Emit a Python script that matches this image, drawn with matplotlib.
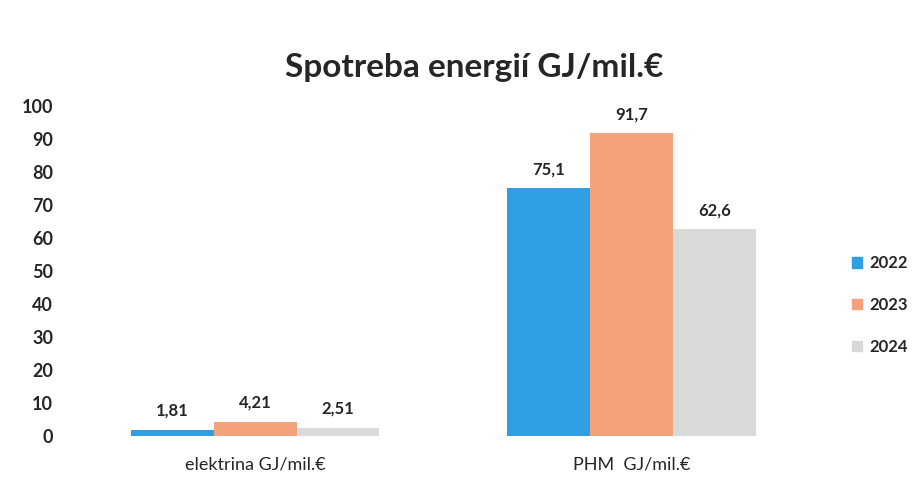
import numpy as np
import matplotlib.pyplot as plt
from matplotlib.patches import Patch

plt.rcParams['font.family'] = ['Lato', 'DejaVu Sans']

categories = ['elektrina GJ/mil.€', 'PHM  GJ/mil.€']
years = ['2022', '2023', '2024']
v2022 = [1.81, 75.1]
v2023 = [4.21, 91.7]
v2024 = [2.51, 62.6]
labels2022 = ['1,81', '75,1']
labels2023 = ['4,21', '91,7']
labels2024 = ['2,51', '62,6']

colors = ['#2f9ee3', '#f4a27c', '#d9d9d9']
txt = '#262626'

fig = plt.figure(figsize=(9.18, 4.92), dpi=100)
ax = fig.add_axes([0.073, 0.1138, 0.82, 0.6708])

x = np.arange(len(categories))
w = 0.22
series = [(v2022, labels2022), (v2023, labels2023), (v2024, labels2024)]
for i, (vals, labs) in enumerate(series):
    pos = x + (i - 1) * w
    bars = ax.bar(pos, vals, width=w, color=colors[i], label=years[i])
    for b, lab in zip(bars, labs):
        ax.annotate(lab, (b.get_x() + b.get_width() / 2, b.get_height()),
                    xytext=(0, 8), textcoords='offset points',
                    ha='center', va='bottom', fontsize=12, fontweight='bold', color=txt)

ax.set_xlim(-0.5, 1.5)
ax.set_ylim(0, 100)
ax.set_yticks(range(0, 101, 10))
ax.set_xticks(x)
ax.set_xticklabels(categories, fontsize=13, color=txt)
for t in ax.get_yticklabels():
    t.set_fontweight('bold')
    t.set_fontsize(13)
    t.set_color(txt)
ax.tick_params(length=0, axis='y', pad=10)
ax.tick_params(length=0, axis='x', pad=15)
for s in ax.spines.values():
    s.set_visible(False)

fig.text(0.517, 0.862, 'Spotreba energií GJ/mil.€', ha='center', va='center',
         fontsize=24, fontweight='bold', color=txt)

handles = [Patch(color=c) for c in colors]
leg = fig.legend(handles, years, loc='center left', bbox_to_anchor=(0.912, 0.38),
                 frameon=False, handlelength=0.6, handleheight=0.6, handletextpad=0.4,
                 labelspacing=1.55, prop={'weight': 'bold', 'size': 12})
for t in leg.get_texts():
    t.set_color(txt)

fig.savefig('out.png', dpi=100)
